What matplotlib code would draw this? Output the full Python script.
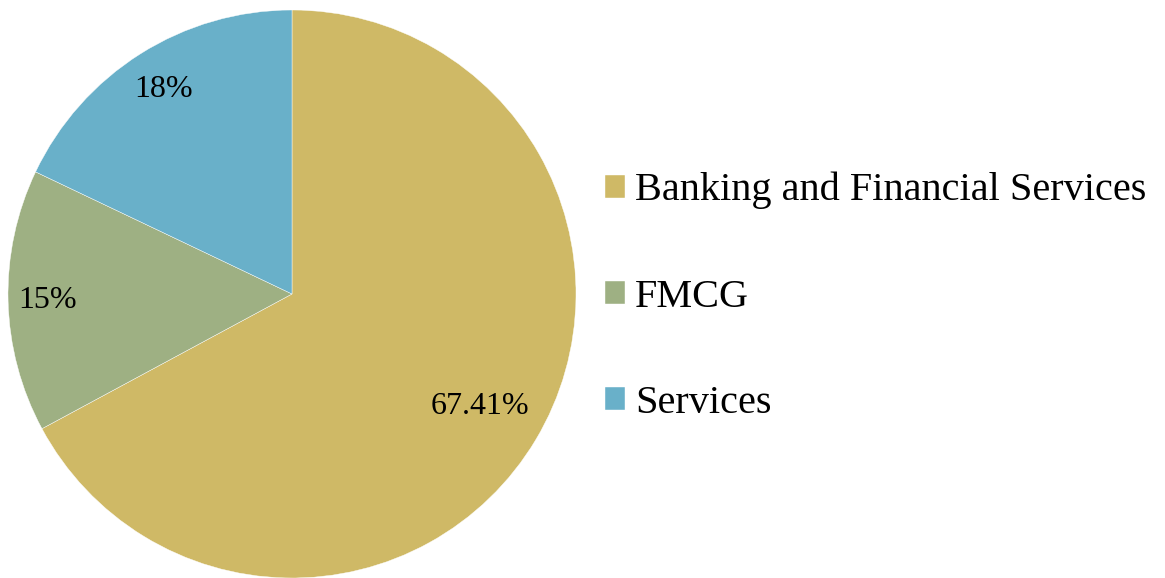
import numpy as np
import matplotlib.pyplot as plt

plt.rcParams['font.family'] = ['Liberation Serif', 'DejaVu Serif']

sectors = ['Banking and Financial Services', 'FMCG', 'Services']
shares = [67.41, 15, 18]
pct_labels = ['67.41%', '15%', '18%']
colors = ['#CFB966', '#9EB083', '#69B0C9']

fig = plt.figure(figsize=(11.65, 5.78), dpi=100)
ax = fig.add_axes([8 / 1165, 0, 568 / 1165, 568 / 578])

wedges, _ = ax.pie(shares, colors=colors, startangle=90, counterclock=False,
                   radius=1, wedgeprops=dict(edgecolor='white', linewidth=0.3))
ax.set_xlim(-1, 1)
ax.set_ylim(-1, 1)
ax.set_aspect('equal')

# put the percentages along each wedge's bisector
dists = [0.77, 0.86, 0.85]
for w, txt, d in zip(wedges, pct_labels, dists):
    mid = np.deg2rad((w.theta1 + w.theta2) / 2)
    ax.text(d * np.cos(mid), d * np.sin(mid), txt, ha='center', va='center',
            fontsize=23, color='black')

fig.legend(wedges, sectors, loc='center left', bbox_to_anchor=(605 / 1165, 1 - 297 / 578),
           frameon=False, fontsize=29, handlelength=0.5, handleheight=0.5,
           handletextpad=0.25, labelspacing=1.72, borderpad=0, borderaxespad=0)

plt.savefig('out.png', dpi=100)
